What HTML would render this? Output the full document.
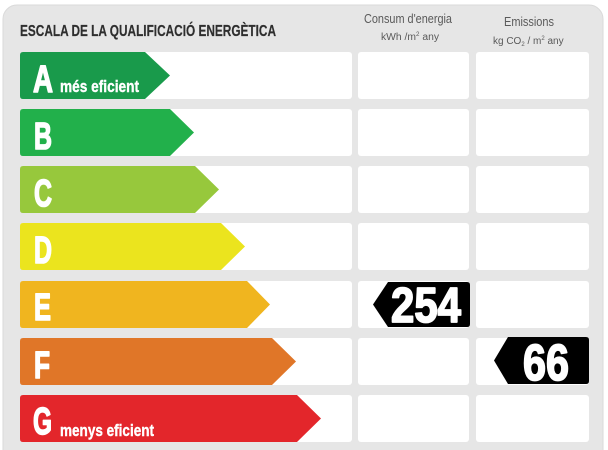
<!DOCTYPE html>
<html>
<head>
<meta charset="utf-8">
<style>
html,body{margin:0;padding:0;background:#fff;}
svg{display:block;}
text{font-family:"Liberation Sans",Arial,sans-serif;}
</style>
</head>
<body>
<svg width="608" height="450" viewBox="0 0 608 450" xmlns="http://www.w3.org/2000/svg">
  <rect x="0" y="0" width="608" height="450" fill="#ffffff"/>
  <rect x="3" y="5" width="600" height="460" rx="14" ry="14" fill="#e6e6e6" stroke="#dadada" stroke-width="1"/>

  <!-- header -->
  <text x="20" y="36" font-size="16" font-weight="bold" fill="#2e2e2e" stroke="#2e2e2e" stroke-width="0.2" textLength="256" lengthAdjust="spacingAndGlyphs">ESCALA DE LA QUALIFICACIÓ ENERGÈTICA</text>
  <text x="364" y="23" font-size="13" fill="#5a5a5a" textLength="88" lengthAdjust="spacingAndGlyphs">Consum d'energia</text>
  <text x="381" y="40" font-size="10" fill="#5a5a5a" textLength="58" lengthAdjust="spacingAndGlyphs">kWh /m<tspan font-size="6" dy="-4">2</tspan><tspan dy="4">  any</tspan></text>
  <text x="504" y="26" font-size="13" fill="#5a5a5a" textLength="50" lengthAdjust="spacingAndGlyphs">Emissions</text>
  <text x="493" y="44" font-size="10" fill="#5a5a5a">kg CO<tspan font-size="6" dy="2">2</tspan><tspan dy="-2"> / m</tspan><tspan font-size="6" dy="-4">2</tspan><tspan dy="4">  any</tspan></text>

  <!-- white cells -->
  <g fill="#ffffff">
    <rect x="20" y="52" width="332" height="47" rx="3"/>
    <rect x="358" y="52" width="111" height="47" rx="3"/>
    <rect x="476" y="52" width="113" height="47" rx="3"/>

    <rect x="20" y="109" width="332" height="47" rx="3"/>
    <rect x="358" y="109" width="111" height="47" rx="3"/>
    <rect x="476" y="109" width="113" height="47" rx="3"/>

    <rect x="20" y="166" width="332" height="47" rx="3"/>
    <rect x="358" y="166" width="111" height="47" rx="3"/>
    <rect x="476" y="166" width="113" height="47" rx="3"/>

    <rect x="20" y="223" width="332" height="47" rx="3"/>
    <rect x="358" y="223" width="111" height="47" rx="3"/>
    <rect x="476" y="223" width="113" height="47" rx="3"/>

    <rect x="20" y="281" width="332" height="47" rx="3"/>
    <rect x="358" y="281" width="111" height="47" rx="3"/>
    <rect x="476" y="281" width="113" height="47" rx="3"/>

    <rect x="20" y="338" width="332" height="47" rx="3"/>
    <rect x="358" y="338" width="111" height="47" rx="3"/>
    <rect x="476" y="338" width="113" height="47" rx="3"/>

    <rect x="20" y="395" width="332" height="47" rx="3"/>
    <rect x="358" y="395" width="111" height="47" rx="3"/>
    <rect x="476" y="395" width="113" height="47" rx="3"/>
  </g>

  <!-- bars -->
  <path d="M23 52 H145 L170 75.5 L145 99 H23 Q20 99 20 96 V55 Q20 52 23 52 Z" fill="#199a4b"/>
  <path d="M23 109 H170 L194 132.5 L170 156 H23 Q20 156 20 153 V112 Q20 109 23 109 Z" fill="#22b04b"/>
  <path d="M23 166 H195 L219 189.5 L195 213 H23 Q20 213 20 210 V169 Q20 166 23 166 Z" fill="#97c83c"/>
  <path d="M23 223 H221 L245 246.5 L221 270 H23 Q20 270 20 267 V226 Q20 223 23 223 Z" fill="#ebe41e"/>
  <path d="M23 281 H247 L270 304.5 L247 328 H23 Q20 328 20 325 V284 Q20 281 23 281 Z" fill="#f0b51f"/>
  <path d="M23 338 H272 L296 361.5 L272 385 H23 Q20 385 20 382 V341 Q20 338 23 338 Z" fill="#e07628"/>
  <path d="M23 395 H297 L321 418.5 L297 442 H23 Q20 442 20 439 V398 Q20 395 23 395 Z" fill="#e3262b"/>

  <!-- letters -->
  <g fill="#ffffff" stroke="#ffffff" stroke-width="1.6" stroke-linejoin="round" font-weight="bold" font-size="38">
    <text x="33" y="92" textLength="20" lengthAdjust="spacingAndGlyphs">A</text>
    <text x="34" y="149" textLength="18" lengthAdjust="spacingAndGlyphs">B</text>
    <text x="34" y="206" textLength="18" lengthAdjust="spacingAndGlyphs">C</text>
    <text x="34" y="263" textLength="18" lengthAdjust="spacingAndGlyphs">D</text>
    <text x="34" y="320" textLength="17" lengthAdjust="spacingAndGlyphs">E</text>
    <text x="34" y="378" textLength="16" lengthAdjust="spacingAndGlyphs">F</text>
    <text x="33" y="434" textLength="19" lengthAdjust="spacingAndGlyphs">G</text>
  </g>
  <text x="60" y="92" font-size="17" font-weight="bold" fill="#ffffff" stroke="#ffffff" stroke-width="0.4" textLength="79" lengthAdjust="spacingAndGlyphs">més eficient</text>
  <text x="60" y="436" font-size="17" font-weight="bold" fill="#ffffff" stroke="#ffffff" stroke-width="0.4" textLength="94" lengthAdjust="spacingAndGlyphs">menys eficient</text>

  <!-- value tags -->
  <path d="M373 304.5 L388 282 H467 Q470 282 470 285 V324 Q470 327 467 327 H388 Z" fill="#000000"/>
  <text x="391" y="322" font-size="49" font-weight="bold" fill="#ffffff" stroke="#ffffff" stroke-width="1.8" stroke-linejoin="round" textLength="70" lengthAdjust="spacingAndGlyphs">254</text>

  <path d="M494 360.5 L508 337 H586 Q589 337 589 340 V381 Q589 384 586 384 H508 Z" fill="#000000"/>
  <text x="523" y="380" font-size="51" font-weight="bold" fill="#ffffff" stroke="#ffffff" stroke-width="1.8" stroke-linejoin="round" textLength="46" lengthAdjust="spacingAndGlyphs">66</text>
</svg>
</body>
</html>
